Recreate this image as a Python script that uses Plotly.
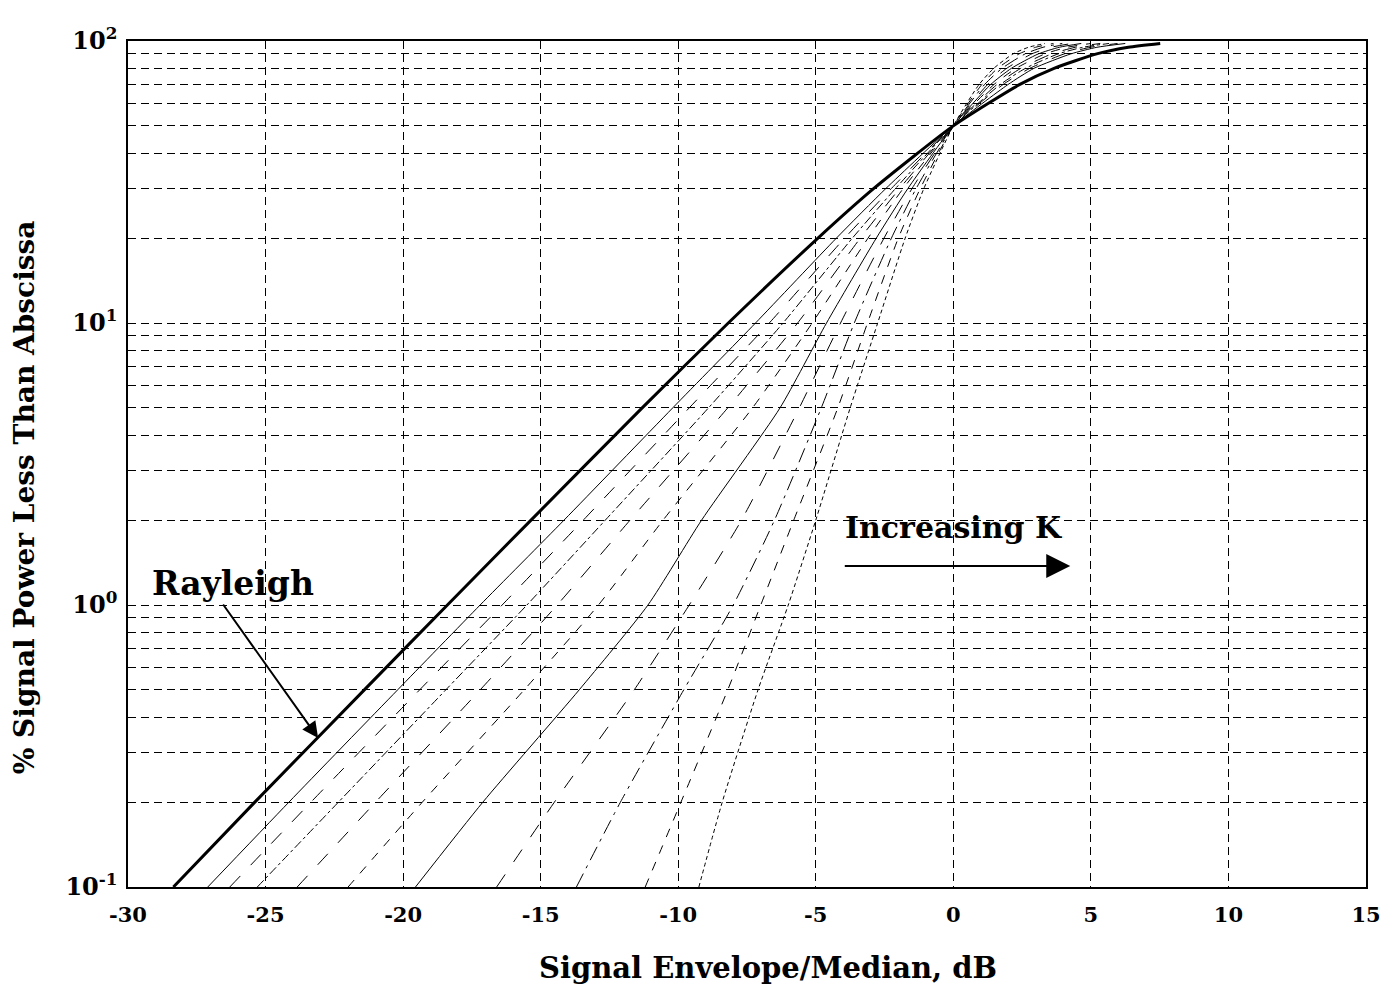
import plotly.graph_objects as go

# Cumulative percentage levels at which each curve is sampled (% signal power less than abscissa)
pct_levels = [0.1, 0.2, 0.5, 1, 2, 5, 10, 20, 30, 50, 70, 80, 90, 95, 98]

# Envelope relative to median (dB) for each curve, at the levels above
x_rayleigh = [-28.35, -25.39, -21.41, -18.39, -15.35, -11.31, -8.18, -4.92, -2.89, 0, 2.40, 3.66, 5.21, 6.36, 7.52]
x_k1 = [-27.1, -24.15, -20.2, -17.2, -14.15, -10.2, -7.19, -4.25, -2.45, 0, 1.98, 2.93, 4.27, 5.22, 6.25]
x_k2 = [-26.3, -23.35, -19.4, -16.4, -13.45, -9.6, -6.69, -3.95, -2.25, 0, 1.80, 2.78, 4.03, 4.98, 5.97]
x_k3 = [-25.3, -22.35, -18.45, -15.5, -12.65, -8.9, -6.19, -3.67, -2.10, 0, 1.70, 2.62, 3.81, 4.71, 5.66]
x_k4 = [-23.85, -21.0, -17.2, -14.4, -11.75, -8.2, -5.66, -3.38, -1.95, 0, 1.58, 2.45, 3.58, 4.43, 5.34]
x_k5 = [-22.0, -19.3, -15.6, -12.9, -10.55, -7.3, -5.13, -3.10, -1.82, 0, 1.47, 2.28, 3.33, 4.14, 5.00]
x_k6 = [-19.55, -17.1, -13.6, -11.1, -9.15, -6.3, -4.61, -2.80, -1.65, 0, 1.35, 2.11, 3.09, 3.85, 4.65]
x_k7 = [-16.6, -14.5, -11.6, -9.6, -7.7, -5.6, -4.10, -2.52, -1.50, 0, 1.24, 1.94, 2.85, 3.55, 4.31]
x_k8 = [-13.7, -12.1, -9.8, -8.0, -6.5, -4.8, -3.60, -2.25, -1.35, 0, 1.13, 1.77, 2.61, 3.26, 3.96]
x_k9 = [-11.2, -9.9, -8.2, -7.0, -5.8, -4.2, -3.12, -2.00, -1.20, 0, 1.03, 1.61, 2.39, 2.99, 3.64]
x_k10 = [-9.25, -8.4, -7.1, -6.0, -5.0, -3.75, -2.75, -1.75, -1.07, 0, 0.93, 1.47, 2.17, 2.73, 3.33]

curve_names = ["Rayleigh", "K = 1 dB", "K = 2 dB", "K = 3 dB", "K = 4 dB", "K = 5 dB",
               "K = 6 dB", "K = 7 dB", "K = 8 dB", "K = 9 dB", "K = 10 dB"]

# Axis tick positions and labels
x_ticks = [-30, -25, -20, -15, -10, -5, 0, 5, 10, 15]
y_decades = [0.1, 1, 10, 100]
y_decade_labels = ["10<sup>-1</sup>", "10<sup>0</sup>", "10<sup>1</sup>", "10<sup>2</sup>"]

curves = [x_rayleigh, x_k1, x_k2, x_k3, x_k4, x_k5, x_k6, x_k7, x_k8, x_k9, x_k10]
dashes = ["solid", "solid", "longdash", "dashdot", "longdash", "dash",
          "solid", "longdash", "longdashdot", "dash", "4px,3px"]
widths = [3, 1, 1, 1, 1, 1, 1, 1, 1, 1, 1]

SERIF = "DejaVu Serif"

fig = go.Figure()
for xs, name, dash, w in zip(curves, curve_names, dashes, widths):
    fig.add_trace(go.Scatter(
        x=xs, y=pct_levels, mode="lines", name=name,
        line=dict(color="black", width=w, dash=dash, shape="spline", smoothing=0.6),
        showlegend=False, hoverinfo="x+y+name",
    ))

# Minor log grid: 2..9 multiples inside each decade
minor_vals = [round(d * m, 4) for d in y_decades[:-1] for m in range(2, 10)]

GRID_DASH = "8px,5px"

fig.update_layout(
    width=1395, height=989,
    margin=dict(l=128, r=29, t=41, b=102),
    paper_bgcolor="white", plot_bgcolor="white",
    font=dict(family=SERIF, color="black"),
    xaxis=dict(
        range=[-30, 15], tickvals=x_ticks, ticktext=[f"<b>{v}</b>" for v in x_ticks],
        tickfont=dict(family=SERIF, size=21, color="black"),
        showgrid=True, gridcolor="black", gridwidth=1, griddash=GRID_DASH,
        showline=True, linecolor="black", linewidth=1.5, mirror=True, zeroline=False,
        ticks="outside", ticklen=8, tickcolor="rgba(0,0,0,0)",
    ),
    yaxis=dict(
        type="log", range=[-1, 2], tickvals=y_decades,
        ticktext=[f"<b>{t}</b>" for t in y_decade_labels],
        tickfont=dict(family=SERIF, size=24, color="black"),
        showgrid=True, gridcolor="black", gridwidth=1, griddash=GRID_DASH,
        minor=dict(tickmode="array", tickvals=minor_vals, showgrid=True,
                   gridcolor="black", gridwidth=1, griddash=GRID_DASH, ticks=""),
        showline=True, linecolor="black", linewidth=1.5, mirror=True, zeroline=False,
        ticks="outside", ticklen=4, tickcolor="rgba(0,0,0,0)",
    ),
)

# Axis titles
fig.add_annotation(x=0.517, y=-0.096, xref="paper", yref="paper",
                   xanchor="center", yanchor="middle",
                   text="<b>Signal Envelope/Median, dB</b>", showarrow=False,
                   font=dict(family=SERIF, size=29, color="black"))
fig.add_annotation(x=-0.083, y=0.461, xref="paper", yref="paper", textangle=-90,
                   xanchor="center", yanchor="middle",
                   text="<b>% Signal Power Less Than Abscissa</b>", showarrow=False,
                   font=dict(family=SERIF, size=28, color="black"))

# Rayleigh callout
fig.add_annotation(x=-26.18, y=0.078, xref="x", yref="y",
                   text="<b>Rayleigh</b>", showarrow=False,
                   font=dict(family=SERIF, size=33, color="black"))
fig.add_annotation(x=-23.09, y=-0.4716, xref="x", yref="y",
                   ax=-26.58, ay=0.007, axref="x", ayref="y",
                   text="", showarrow=True, arrowhead=2, arrowsize=1.6,
                   arrowwidth=2, arrowcolor="black")

# Increasing-K arrow
fig.add_annotation(x=0.0, y=0.275, xref="x", yref="y",
                   text="<b>Increasing K</b>", showarrow=False,
                   font=dict(family=SERIF, size=30, color="black"))
fig.add_annotation(x=4.25, y=0.138, xref="x", yref="y",
                   ax=-4.0, ay=0.138, axref="x", ayref="y",
                   text="", showarrow=True, arrowhead=2, arrowsize=2.4,
                   arrowwidth=2, arrowcolor="black")

fig.write_html("out.html")
